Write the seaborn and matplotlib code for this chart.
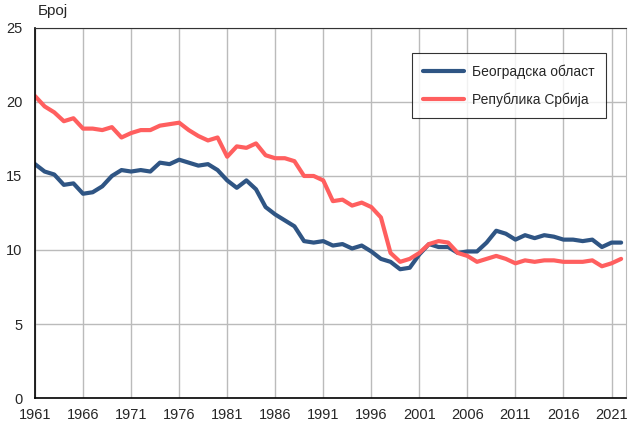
import pandas as pd
import matplotlib.pyplot as plt
import seaborn as sns
import numpy as np

years = list(range(1961, 2023))

beograd = [15.8, 15.3, 15.1, 14.4, 14.5, 13.8, 13.9, 14.3, 15.0, 15.4,
           15.3, 15.4, 15.3, 15.9, 15.8, 16.1, 15.9, 15.7, 15.8, 15.4,
           14.7, 14.2, 14.7, 14.1, 12.9, 12.4, 12.0, 11.6, 10.6, 10.5,
           10.6, 10.3, 10.4, 10.1, 10.3, 9.9, 9.4, 9.2, 8.7, 8.8,
           9.7, 10.4, 10.2, 10.2, 9.8, 9.9, 9.9, 10.5, 11.3, 11.1,
           10.7, 11.0, 10.8, 11.0, 10.9, 10.7, 10.7, 10.6, 10.7, 10.2,
           10.5, 10.5]

srbija = [20.4, 19.7, 19.3, 18.7, 18.9, 18.2, 18.2, 18.1, 18.3, 17.6,
          17.9, 18.1, 18.1, 18.4, 18.5, 18.6, 18.1, 17.7, 17.4, 17.6,
          16.3, 17.0, 16.9, 17.2, 16.4, 16.2, 16.2, 16.0, 15.0, 15.0,
          14.7, 13.3, 13.4, 13.0, 13.2, 12.9, 12.2, 9.8, 9.2, 9.4,
          9.8, 10.4, 10.6, 10.5, 9.8, 9.6, 9.2, 9.4, 9.6, 9.4,
          9.1, 9.3, 9.2, 9.3, 9.3, 9.2, 9.2, 9.2, 9.3, 8.9,
          9.1, 9.4]

series_names = ['Београдска област', 'Република Србија']
colors = ['#2F5584', '#FF5F5F']
xticks = list(range(1961, 2022, 5))
yticks = [0, 5, 10, 15, 20, 25]

df = pd.DataFrame({
    'year': years * 2,
    'value': beograd + srbija,
    'region': [series_names[0]] * len(years) + [series_names[1]] * len(years),
})

sns.set_style('white')
plt.rcParams['font.family'] = ['Liberation Sans', 'DejaVu Sans']

fig = plt.figure(figsize=(6.32, 4.21), dpi=100)
ax = fig.add_axes([0.0554, 0.0546, 0.935, 0.879])

sns.lineplot(data=df, x='year', y='value', hue='region', hue_order=series_names,
             palette=colors, linewidth=3.0, ax=ax)

ax.set_xlim(1961, 2022.5)
ax.set_ylim(0, 25)
ax.set_xticks(xticks)
ax.set_yticks(yticks)
ax.set_xlabel('')
ax.set_ylabel('')
ax.tick_params(axis='x', labelsize=10.5, length=0, pad=7)
ax.tick_params(axis='y', labelsize=10.5, length=0, pad=9)
ax.grid(True, color='#BBBBBB', linewidth=1)
ax.set_axisbelow(True)

for side in ['left', 'bottom']:
    ax.spines[side].set_color('black')
    ax.spines[side].set_linewidth(1.2)
ax.spines['top'].set_color('#333333')
ax.spines['top'].set_linewidth(0.8)
ax.spines['right'].set_color('#BBBBBB')

leg = ax.legend(loc='upper right', bbox_to_anchor=(0.966, 0.932), fontsize=10,
                frameon=True, fancybox=False, edgecolor='black',
                borderpad=0.8, labelspacing=1.0, handlelength=2.9,
                handletextpad=0.6, borderaxespad=0)
leg.get_frame().set_linewidth(0.8)

fig.text(0.06, 0.99, 'Број', fontsize=11, ha='left', va='top')

fig.savefig('out.png', dpi=100)
